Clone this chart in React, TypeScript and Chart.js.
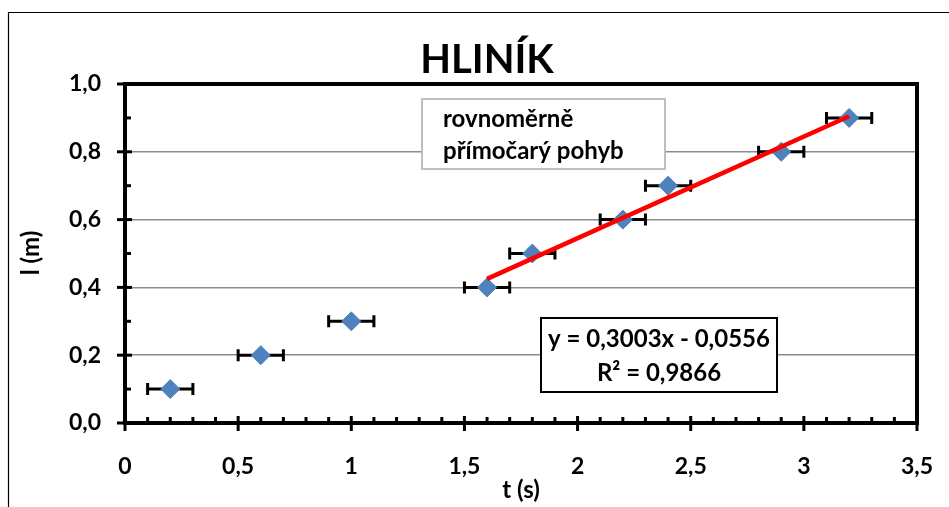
import React, { useEffect, useRef } from "react";
import { Chart, registerables } from "chart.js";

Chart.register(...registerables);

const timeValues = [0.2, 0.6, 1.0, 1.6, 1.8, 2.2, 2.4, 2.9, 3.2];
const lengthValues = [0.1, 0.2, 0.3, 0.4, 0.5, 0.6, 0.7, 0.8, 0.9];
const timeError = [0.1, 0.1, 0.1, 0.1, 0.1, 0.1, 0.1, 0.1, 0.1];
const trendX = [1.6, 3.2];
const trendY = [0.425, 0.905];
const titleText = "HLINÍK";
const xTitle = "t (s)";
const yTitle = "l (m)";
const noteLines = ["rovnoměrně", "přímočarý pohyb"];
const equationLines = ["y = 0,3003x - 0,0556", "R² = 0,9866"];

const FONT = "Lato, 'Open Sans', sans-serif";
const W = "bold";

const fmt = (v: number, digits: number) => {
  const s = digits >= 0 ? v.toFixed(digits) : String(Math.round(v * 10) / 10);
  return s.replace(".", ",");
};

const decorPlugin = {
  id: "decor",
  beforeDatasetsDraw(chart: any) {
    const { ctx } = chart;
    const xs = chart.scales.x;
    const ys = chart.scales.y;
    ctx.save();
    ctx.strokeStyle = "#000";
    ctx.lineWidth = 3;
    timeValues.forEach((t, i) => {
      const y = ys.getPixelForValue(lengthValues[i]);
      const x1 = xs.getPixelForValue(t - timeError[i]);
      const x2 = xs.getPixelForValue(t + timeError[i]);
      ctx.beginPath();
      ctx.moveTo(x1, y);
      ctx.lineTo(x2, y);
      ctx.moveTo(x1, y - 6);
      ctx.lineTo(x1, y + 6);
      ctx.moveTo(x2, y - 6);
      ctx.lineTo(x2, y + 6);
      ctx.stroke();
    });
    ctx.restore();
  },
  afterDraw(chart: any) {
    const { ctx, chartArea } = chart;
    const xs = chart.scales.x;
    const ys = chart.scales.y;
    const { left, right, top, bottom } = chartArea;
    ctx.save();
    // outer frame
    ctx.strokeStyle = "#000";
    ctx.lineWidth = 1.2;
    ctx.beginPath();
    ctx.moveTo(8.5, 507);
    ctx.lineTo(8.5, 12.5);
    ctx.lineTo(949, 12.5);
    ctx.stroke();

    // plot border top & right
    ctx.lineWidth = 4;
    ctx.beginPath();
    ctx.moveTo(left, top);
    ctx.lineTo(right, top);
    ctx.lineTo(right, bottom);
    ctx.stroke();
    // axes
    ctx.beginPath();
    ctx.moveTo(left, top - 2);
    ctx.lineTo(left, bottom);
    ctx.lineTo(right + 2, bottom);
    ctx.stroke();

    // x ticks
    ctx.lineWidth = 3;
    for (let k = 0; k <= 35; k++) {
      const v = k / 10;
      const x = xs.getPixelForValue(v);
      ctx.beginPath();
      if (k % 5 === 0) {
        ctx.moveTo(x, bottom - 7);
        ctx.lineTo(x, bottom + 8);
      } else {
        ctx.moveTo(x, bottom - 6);
        ctx.lineTo(x, bottom);
      }
      ctx.stroke();
    }
    // y ticks
    for (let k = 0; k <= 10; k++) {
      const v = k / 10;
      const y = ys.getPixelForValue(v);
      ctx.beginPath();
      if (k % 2 === 0) {
        ctx.moveTo(left - 8, y);
        ctx.lineTo(left + 7, y);
      } else {
        ctx.moveTo(left, y);
        ctx.lineTo(left + 6, y);
      }
      ctx.stroke();
    }

    // title
    ctx.fillStyle = "#000";
    ctx.font = `${W} 40px ${FONT}`;
    ctx.textAlign = "center";
    ctx.textBaseline = "alphabetic";
    ctx.fillText(titleText, 487, 73);

    // axis titles
    ctx.font = `${W} 24px ${FONT}`;
    ctx.fillText(xTitle, 521, 498);
    ctx.save();
    ctx.translate(39, 253);
    ctx.rotate(-Math.PI / 2);
    ctx.fillText(yTitle, 0, 0);
    ctx.restore();

    // note box
    ctx.fillStyle = "#fff";
    ctx.fillRect(422, 99, 243, 70);
    ctx.strokeStyle = "#BFBFBF";
    ctx.lineWidth = 2;
    ctx.strokeRect(422, 99, 243, 70);
    ctx.fillStyle = "#000";
    ctx.textAlign = "left";
    ctx.font = `${W} 24px ${FONT}`;
    ctx.fillText(noteLines[0], 443, 127);
    ctx.fillText(noteLines[1], 443, 159);

    // equation box
    ctx.fillStyle = "#fff";
    ctx.fillRect(541, 318, 236, 74);
    ctx.strokeStyle = "#000";
    ctx.lineWidth = 2;
    ctx.strokeRect(541, 318, 236, 74);
    ctx.fillStyle = "#000";
    ctx.textAlign = "center";
    ctx.font = `${W} 24px ${FONT}`;
    ctx.fillText(equationLines[0], 659, 347);
    ctx.fillText(equationLines[1], 659, 381);
    ctx.restore();
  },
};

export default function App() {
  const ref = useRef<HTMLCanvasElement | null>(null);
  useEffect(() => {
    if (!ref.current) return;
    const chart = new Chart(ref.current, {
      type: "scatter",
      data: {
        datasets: [
          {
            type: "line",
            label: "trend",
            data: trendX.map((x, i) => ({ x, y: trendY[i] })),
            borderColor: "#FF0000",
            borderWidth: 4.5,
            pointRadius: 0,
            fill: false,
            order: 0,
          } as any,
          {
            label: "data",
            data: timeValues.map((x, i) => ({ x, y: lengthValues[i] })),
            pointStyle: "rectRot",
            pointRadius: 9.5,
            pointBackgroundColor: "#4F81BD",
            pointBorderColor: "#4F81BD",
            pointBorderWidth: 1,
            order: 1,
          },
        ],
      },
      options: {
        responsive: false,
        animation: false,
        layout: { padding: { left: 0, top: 84, right: 32, bottom: 0 } },
        plugins: {
          legend: { display: false },
          title: { display: false },
          tooltip: { enabled: false },
        },
        scales: {
          x: {
            type: "linear",
            min: 0,
            max: 3.5,
            afterFit: (s: any) => {
              s.height = 84;
              s.paddingLeft = 0;
              s.paddingRight = 0;
            },
            ticks: {
              stepSize: 0.5,
              padding: 22,
              color: "#000",
              font: { family: FONT, size: 23, weight: "bold" },
              callback: (v: any) => fmt(Number(v), -1),
            },
            grid: { drawOnChartArea: false, drawTicks: true, tickLength: 8, tickColor: "rgba(0,0,0,0)" },
            border: { display: false },
          },
          y: {
            type: "linear",
            min: 0,
            max: 1,
            afterFit: (s: any) => {
              s.width = 125;
              s.paddingTop = 0;
              s.paddingBottom = 0;
            },
            ticks: {
              stepSize: 0.2,
              padding: 16,
              color: "#000",
              font: { family: FONT, size: 23, weight: "bold" },
              callback: (v: any) => fmt(Number(v), 1),
            },
            grid: {
              color: "#8C8C8C",
              lineWidth: 1.5,
              drawTicks: true,
              tickLength: 8,
              tickColor: "rgba(0,0,0,0)",
            },
            border: { display: false },
          },
        },
      },
      plugins: [decorPlugin],
    });
    return () => chart.destroy();
  }, []);
  return (
    <div style={{ position: "fixed", left: 0, top: 0, width: 949, height: 507, background: "#fff" }}>
      <canvas ref={ref} width={949} height={507} style={{ width: 949, height: 507, display: "block" }} />
    </div>
  );
}
